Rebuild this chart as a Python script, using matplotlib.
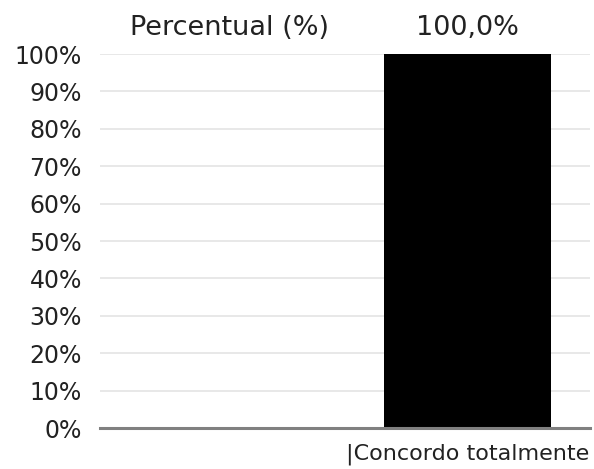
import matplotlib
matplotlib.use("Agg")
import matplotlib.pyplot as plt

categories = ["", "|Concordo totalmente"]
values = [0.0, 100.0]
value_labels = ["", "100,0%"]
yticks = [0, 10, 20, 30, 40, 50, 60, 70, 80, 90, 100]
ytick_labels = [f"{t}%" for t in yticks]
series_name = "Percentual (%)"

W, H = 594, 469
fig = plt.figure(figsize=(W / 100, H / 100), dpi=100)
ax = fig.add_axes([100 / W, 1 - 428 / H, (590 - 100) / W, (428 - 54) / H])

x = list(range(len(categories)))
ax.bar(x, values, width=0.68, color="black", zorder=3)

for xi, v, lab in zip(x, values, value_labels):
    if lab:
        ax.annotate(lab, (xi, v), xytext=(0, 19), textcoords="offset points",
                    ha="center", va="center", fontsize=19.5,
                    color="#222222", annotation_clip=False)

ax.set_xlim(-0.5, 1.5)
ax.set_ylim(0, 100)
ax.set_yticks(yticks)
ax.set_yticklabels(ytick_labels, fontsize=17, color="#222222")
ax.set_xticks(x)
ax.set_xticklabels(categories, fontsize=16, color="#222222")
ax.tick_params(axis="y", length=0, pad=13)
ax.tick_params(axis="x", length=0, pad=11)

ax.yaxis.grid(True, color="#e4e4e4", linewidth=1.2, zorder=0)
for s in ["top", "right", "left"]:
    ax.spines[s].set_visible(False)
ax.spines["bottom"].set_color("#808080")
ax.spines["bottom"].set_linewidth(2.2)
ax.spines["bottom"].set_zorder(4)

fig.text(230 / W, 1 - 28 / H, series_name, ha="center", va="center",
         fontsize=19.5, color="#222222")

fig.savefig("out.png", dpi=100, facecolor="white")
